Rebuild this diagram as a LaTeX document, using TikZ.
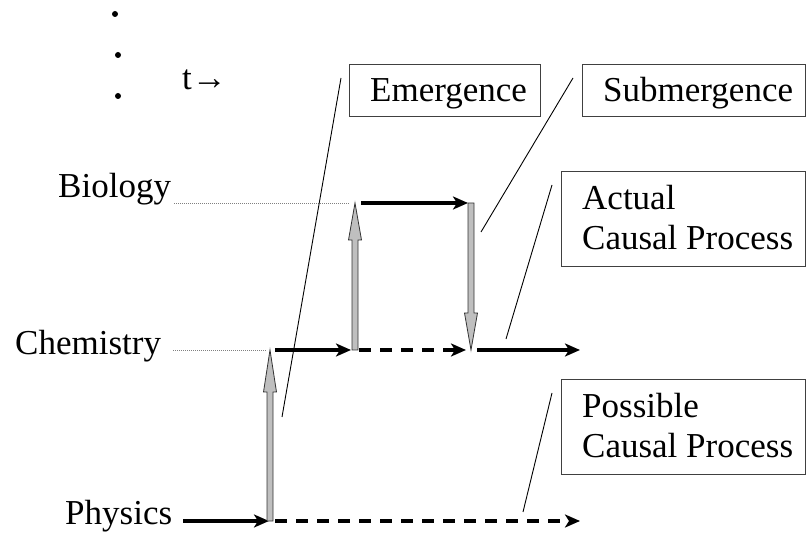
\documentclass[tikz,border=0pt]{standalone}
\usepackage{fontspec}
\setmainfont{Liberation Serif}
\usetikzlibrary{arrows.meta,calc}
\begin{document}
\begin{tikzpicture}[x=1pt,y=1pt,
  lbl/.style={inner sep=0pt,anchor=base west,font=\fontsize{35}{40}\selectfont},
  box/.style={draw=black!75,line width=1.2pt,inner sep=0pt},
  flow/.style={line width=3.5pt,-{Stealth[length=15pt,width=13pt,inset=4pt]}},
  flowdash/.style={flow,dash pattern=on 12pt off 9pt},
  guide/.style={gray,line width=0.9pt,dash pattern=on 1pt off 1pt},
  leader/.style={black,line width=0.9pt},
  garrow/.style={draw=black!80,fill=gray!50,line width=0.8pt}
]
\useasboundingbox (0,0) rectangle (806,533);
% dots and time
\fill (115,519) circle (3);
\fill (118,478) circle (3);
\fill (118,437) circle (3);
\node[lbl] (t) at (182,443) {t\char"2192};
% level labels
\node[lbl] (bio) at (58,335) {Biology};
\node[lbl] (chem) at (15,178) {Chemistry};
\node[lbl] (phys) at (65,9) {Physics};
% key points
\coordinate (p0) at (183,12);
\coordinate (p1) at (270,12);
\coordinate (p2) at (580,12);
\coordinate (c1) at (270,183);
\coordinate (c2) at (355,183);
\coordinate (c3) at (471,183);
\coordinate (c4) at (580,183);
\coordinate (b1) at (355,330);
\coordinate (b2) at (471,330);
% dotted guides
\draw[guide] (174,330) -- (350,330);
\draw[guide] (173,183) -- (267,183);
% black flows
\draw[flow] (p0) -- ($(p1)+(-1,0)$);
\draw[flowdash] ($(p1)+(5,0)$) -- (p2);
\draw[flow] ($(c1)+(5,0)$) -- ($(c2)+(-4,0)$);
\draw[flowdash] ($(c2)+(4,0)$) -- ($(c3)+(-5,0)$);
\draw[flow] ($(c3)+(6,0)$) -- (c4);
\draw[flow] ($(b1)+(6,0)$) -- ($(b2)+(-3,0)$);
% grey emergence / submergence arrows
\draw[garrow] ($(p1)+(-3,0)$) -- ($(c1)+(-3,-42)$) -- ($(c1)+(-6.5,-42)$) -- (c1)
  -- ($(c1)+(6.5,-42)$) -- ($(c1)+(3,-42)$) -- ($(p1)+(3,0)$) -- cycle;
\draw[garrow] ($(c2)+(-3,0)$) -- ($(b1)+(-3,-37)$) -- ($(b1)+(-6.5,-37)$) -- (b1)
  -- ($(b1)+(6.5,-37)$) -- ($(b1)+(3,-37)$) -- ($(c2)+(3,0)$) -- cycle;
\draw[garrow] ($(b2)+(-3,0)$) -- ($(c3)+(-3,37)$) -- ($(c3)+(-6.5,37)$) -- (c3)
  -- ($(c3)+(6.5,37)$) -- ($(c3)+(3,37)$) -- ($(b2)+(3,0)$) -- cycle;
% boxes
\node[box,anchor=south west,minimum width=191pt,minimum height=52pt] (emg) at (349,416) {};
\node[lbl] at (370,431) {Emergence};
\node[box,anchor=south west,minimum width=223pt,minimum height=52pt] (sub) at (582,416) {};
\node[lbl] at (603,431) {Submergence};
\node[box,anchor=south west,minimum width=244pt,minimum height=95pt] (act) at (561,266) {};
\node[lbl] at (582,323) {Actual};
\node[lbl] at (582,283) {Causal Process};
\node[box,anchor=south west,minimum width=244pt,minimum height=95pt] (pos) at (561,58) {};
\node[lbl] at (582,115) {Possible};
\node[lbl] at (582,75) {Causal Process};
% leader lines
\coordinate (le1) at (341,455); \coordinate (le2) at (282,116);
\coordinate (ls1) at (573,455); \coordinate (ls2) at (481,301);
\coordinate (la1) at (552,348); \coordinate (la2) at (506,194);
\coordinate (lp1) at (552,140); \coordinate (lp2) at (523,21);
\draw[leader] (le1) -- (le2);
\draw[leader] (ls1) -- (ls2);
\draw[leader] (la1) -- (la2);
\draw[leader] (lp1) -- (lp2);
\end{tikzpicture}
\end{document}
